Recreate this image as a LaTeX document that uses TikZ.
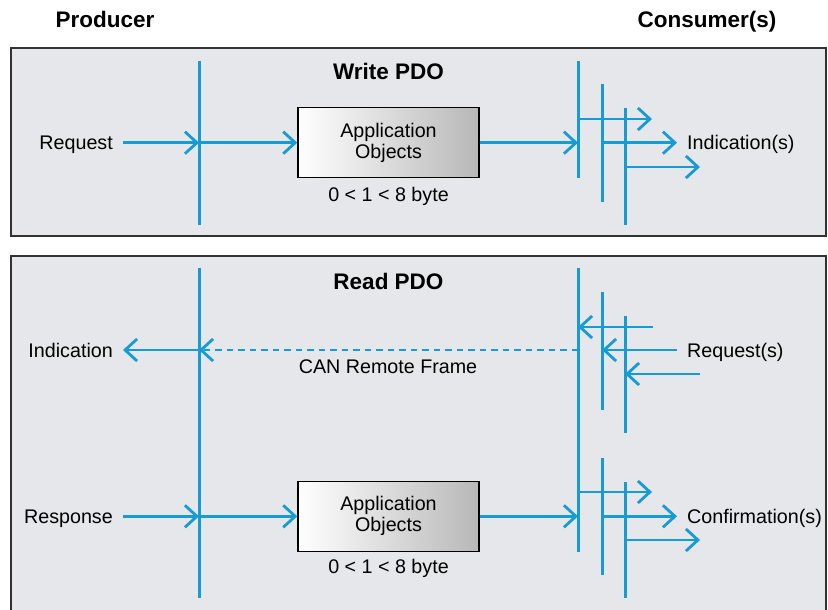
\documentclass[tikz,border=0pt]{standalone}
\usepackage{fontspec}
\setmainfont{Liberation Sans}
\usetikzlibrary{arrows.meta}
\definecolor{pdoblue}{RGB}{22,155,210}
\definecolor{panelgray}{RGB}{229,231,234}
\definecolor{frame}{RGB}{50,50,50}
\tikzset{
  bus/.style={draw=pdoblue, line width=3pt},
  arr/.style={draw=pdoblue, line width=2.8pt, -{Straight Barb[length=12pt,width=22pt,line width=2.8pt]}},
  darr/.style={arr, dash pattern=on 6.5pt off 5pt},
  lbl/.style={inner sep=0pt, text height=14pt, text depth=0pt, font=\fontsize{19.7}{21}\selectfont},
  ttl/.style={inner sep=0pt, text height=16pt, text depth=0pt, font=\bfseries\fontsize{22.5}{24}\selectfont},
  panel/.style={draw=frame, line width=1.6pt, fill=panelgray},
  appbox/.style={draw=black, line width=1.4pt, shading=axis, left color=white, right color=black!28,
    minimum width=181pt, minimum height=70pt, inner sep=0pt, align=center,
    font=\fontsize{19.7}{21}\selectfont},
}
\begin{document}
\begin{tikzpicture}[x=1pt,y=-1pt]
\useasboundingbox (0,0) rectangle (828,610);
% headers
\node[ttl] (prod) at (105,20) {Producer};
\node[ttl] (cons) at (707,20) {Consumer(s)};
% panels
\draw[panel] (11,48) rectangle (826,236);
\draw[panel] (11,256) rectangle (826,620);

%% ---------- Write PDO ----------
\node[ttl] (wtitle) at (388.5,72) {Write PDO};
\coordinate (pa1) at (199,61); \coordinate (pa2) at (199,225);
\draw[bus] (pa1) -- (pa2);
\node[lbl, anchor=east] (req) at (113,142.7) {Request};
\coordinate (pax) at (199,142.7);
\draw[arr] ([xshift=10pt]req.east) -- (pax);
\node[appbox] (boxa) at (388.5,142.7) {Application\\Objects};
\draw[arr] (pax) -- (boxa.west);
\node[lbl] (bytea) at (388.5,194) {0 < 1 < 8 byte};
\coordinate (ca1t) at (578,61); \coordinate (ca1b) at (578,178);
\coordinate (ca2t) at (602,84); \coordinate (ca2b) at (602,202);
\coordinate (ca3t) at (625,108); \coordinate (ca3b) at (625,225);
\draw[bus] (ca1t) -- (ca1b);
\draw[bus] (ca2t) -- (ca2b);
\draw[bus] (ca3t) -- (ca3b);
\coordinate (cax) at (578,142.7);
\draw[arr] (boxa.east) -- (cax);
\coordinate (ia1s) at (578,119); \coordinate (ia1e) at (652,119);
\coordinate (ia2s) at (602,142.7); \coordinate (ia2e) at (677,142.7);
\coordinate (ia3s) at (625,167); \coordinate (ia3e) at (700,167);
\draw[arr] (ia1s) -- (ia1e);
\draw[arr] (ia2s) -- (ia2e);
\draw[arr] (ia3s) -- (ia3e);
\node[lbl, anchor=west] (inds) at (687,142.7) {Indication(s)};

%% ---------- Read PDO ----------
\node[ttl] (rtitle) at (388.5,281) {Read PDO};
\coordinate (pb1) at (199,268); \coordinate (pb2) at (199,598);
\draw[bus] (pb1) -- (pb2);
\node[lbl, anchor=east] (ind) at (113,350) {Indication};
\coordinate (pbx) at (199,350);
\draw[arr] (pbx) -- ([xshift=10pt]ind.east);
\coordinate (cbx) at (578,350);
\draw[darr] (cbx) -- (pbx);
\node[lbl] (can) at (388,366) {CAN Remote Frame};
\coordinate (cb1t) at (578,268); \coordinate (cb1b) at (578,552);
\coordinate (cb2t) at (602,292); \coordinate (cb2b) at (602,410);
\coordinate (cb3t) at (625,316); \coordinate (cb3b) at (625,433);
\coordinate (cb4t) at (602,458); \coordinate (cb4b) at (602,575);
\coordinate (cb5t) at (625,482); \coordinate (cb5b) at (625,598);
\draw[bus] (cb1t) -- (cb1b);
\draw[bus] (cb2t) -- (cb2b);
\draw[bus] (cb3t) -- (cb3b);
\draw[bus] (cb4t) -- (cb4b);
\draw[bus] (cb5t) -- (cb5b);
\coordinate (rq1s) at (653,327); \coordinate (rq1e) at (578,327);
\coordinate (rq2s) at (677,350); \coordinate (rq2e) at (602,350);
\coordinate (rq3s) at (700,374); \coordinate (rq3e) at (625,374);
\draw[arr] (rq1s) -- (rq1e);
\draw[arr] (rq2s) -- (rq2e);
\draw[arr] (rq3s) -- (rq3e);
\node[lbl, anchor=west] (reqs) at (687,350) {Request(s)};

\node[lbl, anchor=east] (resp) at (113,516.3) {Response};
\coordinate (pby) at (199,516.3);
\draw[arr] ([xshift=10pt]resp.east) -- (pby);
\node[appbox] (boxb) at (388.5,516.3) {Application\\Objects};
\draw[arr] (pby) -- (boxb.west);
\node[lbl] (byteb) at (388.5,566) {0 < 1 < 8 byte};
\coordinate (cby) at (578,516.3);
\draw[arr] (boxb.east) -- (cby);
\coordinate (cf1s) at (578,492); \coordinate (cf1e) at (652,492);
\coordinate (cf2s) at (602,516.3); \coordinate (cf2e) at (677,516.3);
\coordinate (cf3s) at (625,540); \coordinate (cf3e) at (700,540);
\draw[arr] (cf1s) -- (cf1e);
\draw[arr] (cf2s) -- (cf2e);
\draw[arr] (cf3s) -- (cf3e);
\node[lbl, anchor=west] (conf) at (687,516.3) {Confirmation(s)};
\end{tikzpicture}
\end{document}
